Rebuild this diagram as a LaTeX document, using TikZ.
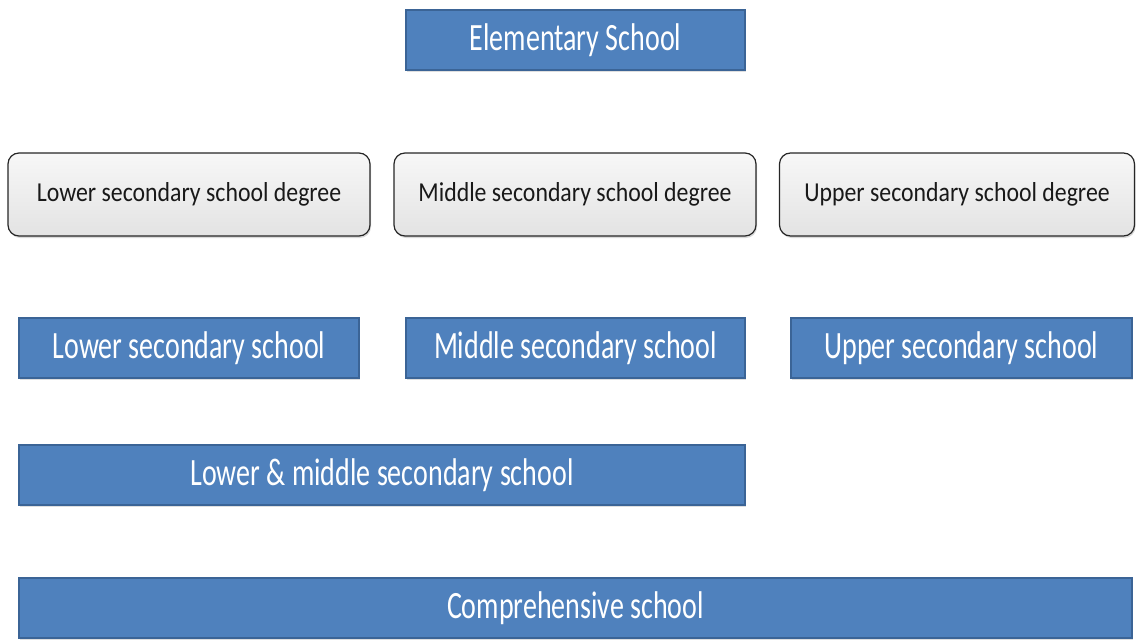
\documentclass[tikz,border=0pt]{standalone}
\usepackage{fontspec}
\setmainfont{Carlito}
\usepackage{graphicx}
\usetikzlibrary{shadows}

\definecolor{schoolblue}{HTML}{4F81BD}
\definecolor{schoolline}{HTML}{3B6496}
\newcommand{\tallbox}[2]{\scalebox{1}[#1]{#2}}

\begin{document}
\begin{tikzpicture}[x=1pt,y=-1pt,
    school/.style={draw=schoolline,line width=1.5pt,fill=schoolblue,text=white,
      minimum height=60pt,inner sep=0pt,
      drop shadow={shadow xshift=1pt,shadow yshift=-2pt,opacity=0.25},
      font=\fontsize{28}{30}\selectfont},
    degree/.style={draw=black!85,line width=1.2pt,rounded corners=11pt,
      top color=gray!6,bottom color=gray!22,text=black!90,
      minimum height=83pt,minimum width=362pt,inner sep=0pt,
      drop shadow={shadow xshift=1pt,shadow yshift=-2pt,opacity=0.3},
      font=\fontsize{23.8}{26}\selectfont}]
      \useasboundingbox (0,0) rectangle (1136,640);
      % top
      \node[school,minimum width=339pt] (elem) at (575.5,40) {\tallbox{1.38}{Elementary School}};
      % degrees
      \node[degree] (lowdeg) at (189,194.5) {\tallbox{1.15}{Lower secondary school degree}};
      \node[degree] (middeg) at (575,194.5) {\tallbox{1.15}{Middle secondary school degree}};
      \node[degree,minimum width=355pt] (updeg) at (957,194.5) {\tallbox{1.15}{Upper secondary school degree}};
      % school types
      \node[school,minimum width=340pt] (lows) at (189,348) {\tallbox{1.38}{Lower secondary school}};
      \node[school,minimum width=339pt] (mids) at (575.5,348) {\tallbox{1.38}{Middle secondary school}};
      \node[school,minimum width=341pt] (ups) at (961.5,348) {\tallbox{1.38}{Upper secondary school}};
      \node[school,minimum width=726pt] (lowmid) at (382,475) {\tallbox{1.38}{Lower \& middle secondary school}};
      \node[school,minimum width=1113pt] (comp) at (575.5,608) {\tallbox{1.38}{Comprehensive school}};
    \end{tikzpicture}
\end{document}
